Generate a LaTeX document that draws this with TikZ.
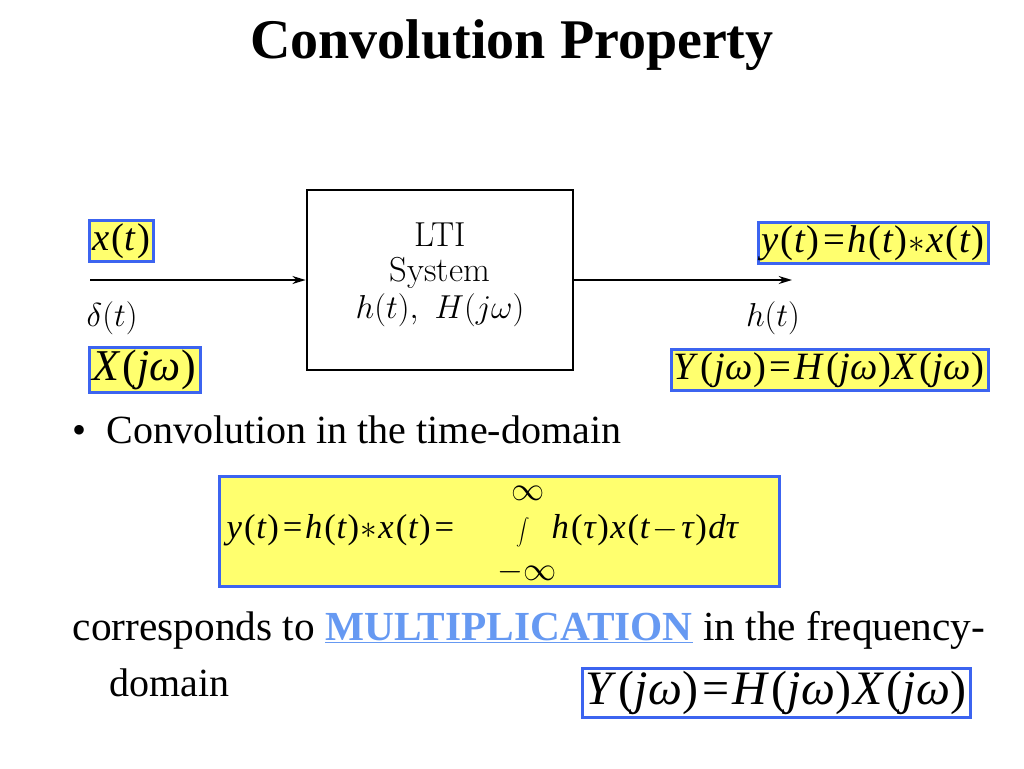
\documentclass[tikz,border=0pt]{standalone}
\usepackage{fontspec}
\setmainfont{Liberation Serif}
\usetikzlibrary{arrows.meta}
\begin{document}
\begin{tikzpicture}[x=0.75pt,y=-0.75pt,
  ybox/.style={draw={rgb,255:red,60;green,100;blue,240},line width=2.2pt,fill={rgb,255:red,255;green,255;blue,110},inner sep=2pt},
  wbox/.style={draw={rgb,255:red,60;green,100;blue,240},line width=2.2pt,fill=white,inner sep=2pt},
  mt/.style={font=\fontsize{29}{32}\selectfont},
  lm/.style={font=\fontspec{Latin Modern Roman}\fontsize{26}{30}\selectfont},
  sig/.style={line width=1.2pt,-{Stealth[length=10pt,width=6pt]}}]
\useasboundingbox (0,0) rectangle (1024,768);
\newcommand{\mi}[1]{\textit{#1}}
\newcommand{\ob}{\kern1.5pt(\kern0.5pt}
\newcommand{\cb}{\kern0.5pt)\kern1pt}
\newcommand{\eqs}{\kern2pt=\kern2pt}
\node[font=\bfseries\fontsize{42}{48}\selectfont] (title) at (512,45) {Convolution Property};
\node[draw,line width=2pt,minimum width=266*0.75pt,minimum height=180*0.75pt] (lti) at (440,280) {};
\node[lm,align=center] (ltit) at (440,275) {LTI\\[-4pt]System\\[-2pt]$h(t),\ H(j\omega)$};
\coordinate (inL) at (90,280);
\coordinate (outR) at (792,280);
\draw[sig] (inL) -- (lti.west);
\draw[sig] (lti.east) -- (outR);
\node[ybox,mt,anchor=west] (xt) at (88,241) {\mi{x}\ob\mi{t}\cb};
\node[lm,anchor=west] (dt) at (82,318) {$\delta(t)$};
\node[ybox,mt,anchor=west,font=\fontsize{33}{36}\selectfont] (Xj) at (88,370) {\mi{X}\ob\mi{jω}\cb};
\node[ybox,mt,anchor=east] (yt) at (990,243) {\mi{y}\ob\mi{t}\cb\eqs\mi{h}\ob\mi{t}\cb$\ast$\kern1pt\mi{x}\ob\mi{t}\cb};
\node[lm] (ht) at (773,318) {$h(t)$};
\node[ybox,mt,anchor=east] (Yj) at (990,370) {\mi{Y}\ob\mi{jω}\cb\eqs\mi{H}\ob\mi{jω}\cb\mi{X}\ob\mi{jω}\cb};
\node[font=\fontsize{30}{34}\selectfont,anchor=west] (b1) at (68,430) {\textbullet\ \ Convolution in the time-domain};
\node[ybox,minimum width=560*0.75pt,minimum height=110*0.75pt,anchor=north west] (conv) at (218,475) {};
\node[font=\fontsize{26}{28}\selectfont,anchor=west] (convl) at (222,530) {\mi{y}\ob\mi{t}\cb\eqs\mi{h}\ob\mi{t}\cb$\ast$\kern1pt\mi{x}\ob\mi{t}\cb\eqs};
\node[font=\fontsize{20}{24}\selectfont] (integ) at (523,532) {$\displaystyle\int$};
\node[font=\fontsize{26}{28}\selectfont,anchor=west] (convr) at (547,530) {\mi{h}\ob\mi{τ}\cb\mi{x}\ob\mi{t}\kern2pt$-$\kern2pt\mi{τ}\cb\mi{dτ}};
\node[font=\fontsize{24}{26}\selectfont] (inf) at (528,493) {$\infty$};
\node[font=\fontsize{24}{26}\selectfont] (minf) at (527,572) {$-\infty$};
\node[anchor=west,font=\fontsize{31}{34}\selectfont] (c1) at (68,630) {corresponds to \textcolor[rgb]{0.4,0.6,0.95}{\bfseries\underline{MULTIPLICATION}} in the frequency-};
\node[anchor=west,font=\fontsize{30}{34}\selectfont] (c2) at (105,683) {domain};
\node[wbox,font=\fontsize{36}{40}\selectfont,anchor=east] (fin) at (972,693) {\mi{Y}\ob\mi{jω}\cb\eqs\mi{H}\ob\mi{jω}\cb\mi{X}\ob\mi{jω}\cb};
\end{tikzpicture}
\end{document}
